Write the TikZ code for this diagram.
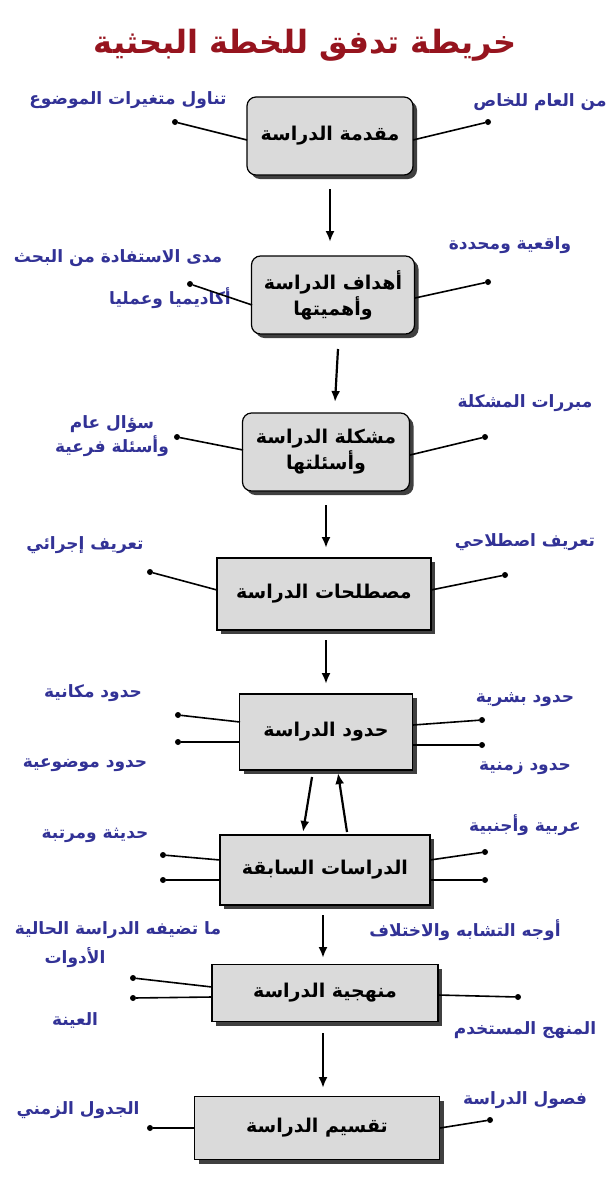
\documentclass[tikz,border=0pt]{standalone}
\usepackage{fontspec}
\TeXXeTstate=1
\newfontfamily\arabicfont[Script=Arabic]{DejaVu Sans}
\usetikzlibrary{shadows,arrows.meta}
\definecolor{titlered}{RGB}{150,20,30}
\definecolor{labelblue}{RGB}{50,50,150}
\definecolor{boxgray}{RGB}{218,218,218}
\newcommand{\ar}[1]{{\arabicfont\bfseries\beginR #1\endR}}
\tikzset{
  stagebox/.style={draw, line width=1.2pt, fill=boxgray, minimum height=57pt, align=center,
    font=\fontsize{19}{26}\selectfont, drop shadow={shadow xshift=4pt, shadow yshift=-4pt, fill=black!75, opacity=1}},
  roundbox/.style={stagebox, rounded corners=9pt},
  note/.style={text=labelblue, font=\fontsize{17}{24}\selectfont, align=center},
  tip/.style={circle, fill=black, inner sep=0pt, minimum size=6pt},
  link/.style={line width=1.6pt},
  flow/.style={line width=2.2pt, -{Latex[length=11pt, width=9pt]}}
}
\begin{document}
\begin{tikzpicture}[x=1pt, y=-1pt]
\useasboundingbox[fill=white] (0,0) rectangle (611,1200);

\node[text=titlered, font=\fontsize{32}{38}\selectfont] (title) at (305,45) {\ar{خريطة تدفق للخطة البحثية}};

% stages
\node[roundbox, minimum width=166pt, minimum height=78pt] (intro) at (330,136) {\ar{مقدمة الدراسة}};
\node[roundbox, minimum width=163pt, minimum height=78pt] (goals) at (333,295) {\ar{أهداف الدراسة}\\\ar{وأهميتها}};
\node[roundbox, minimum width=167pt, minimum height=78pt] (problem) at (326,452) {\ar{مشكلة الدراسة}\\\ar{وأسئلتها}};
\node[stagebox, minimum width=214pt, minimum height=72pt] (terms) at (324,594) {\ar{مصطلحات الدراسة}};
\node[stagebox, minimum width=173pt, minimum height=76pt] (limits) at (326,732) {\ar{حدود الدراسة}};
\node[stagebox, minimum width=210pt, minimum height=70pt] (prior) at (325,870) {\ar{الدراسات السابقة}};
\node[stagebox, minimum width=226pt, minimum height=57pt] (method) at (325,993) {\ar{منهجية الدراسة}};
\node[stagebox, minimum width=245pt, minimum height=63pt] (parts) at (317,1128) {\ar{تقسيم الدراسة}};

% flow
\draw[flow] (330,189) -- (330,242);
\draw[flow] (338,349) -- (335,402);
\draw[flow] (326,505) -- (326,548);
\draw[flow] (326,640) -- (326,684);
\draw[flow] (312,777) -- (303,832);
\draw[flow] (347,832) -- (338,773);
\draw[flow] (323,915) -- (323,958);
\draw[flow] (323,1033) -- (323,1088);

% notes
\node[note] (n1l) at (128,100) {\ar{تناول متغيرات الموضوع}};
\node[note] (n1r) at (540,102) {\ar{من العام للخاص}};
\node[note] (n2l) at (118,258) {\ar{مدى الاستفادة من البحث}};
\node[note] (n2b) at (170,298) {\ar{أكاديميا وعمليا}};
\node[note] (n2r) at (510,245) {\ar{واقعية ومحددة}};
\node[note] (n3l) at (112,436) {\ar{سؤال عام}\\\ar{وأسئلة فرعية}};
\node[note] (n3r) at (525,403) {\ar{مبررات المشكلة}};
\node[note] (n4l) at (85,545) {\ar{تعريف إجرائي}};
\node[note] (n4r) at (525,542) {\ar{تعريف اصطلاحي}};
\node[note] (n5a) at (93,693) {\ar{حدود مكانية}};
\node[note] (n5b) at (85,765) {\ar{حدود موضوعية}};
\node[note] (n5c) at (525,700) {\ar{حدود بشرية}};
\node[note] (n5d) at (525,768) {\ar{حدود زمنية}};
\node[note] (n6a) at (95,835) {\ar{حديثة ومرتبة}};
\node[note] (n6b) at (525,825) {\ar{عربية وأجنبية}};
\node[note] (n6c) at (118,930) {\ar{ما تضيفه الدراسة الحالية}};
\node[note] (n6d) at (465,930) {\ar{أوجه التشابه والاختلاف}};
\node[note] (n7a) at (75,958) {\ar{الأدوات}};
\node[note] (n7b) at (75,1020) {\ar{العينة}};
\node[note] (n7c) at (525,1030) {\ar{المنهج المستخدم}};
\node[note] (n8a) at (78,1110) {\ar{الجدول الزمني}};
\node[note] (n8b) at (525,1100) {\ar{فصول الدراسة}};

% dots and links
\foreach \name/\px/\py/\bx/\by in {
  d1/175/122/247/140, d2/488/122/413/140,
  d3/190/284/252/305, d4/488/282/415/298,
  d5/177/437/243/450, d6/485/437/410/455,
  d7/150/572/217/590, d8/505/575/431/590,
  d9/178/715/240/722, d10/178/742/240/742,
  d11/482/720/413/725, d12/482/745/413/745,
  d13/163/855/220/860, d14/163/880/220/880,
  d15/485/852/430/860, d16/485/880/430/880,
  d17/133/978/212/987, d18/133/998/212/997,
  d19/518/997/438/995,
  d20/150/1128/195/1128, d21/490/1120/440/1128}
{
  \node[tip] (\name) at (\px,\py) {};
  \coordinate (\name e) at (\bx,\by);
  \draw[link] (\name) -- (\name e);
}
\end{tikzpicture}
\end{document}
